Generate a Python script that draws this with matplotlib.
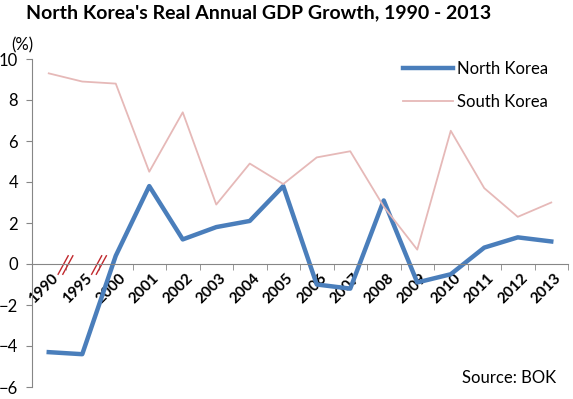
import matplotlib.pyplot as plt
import matplotlib.transforms as mtransforms
from matplotlib.ticker import FixedLocator

plt.rcParams['font.family'] = ['Lato', 'DejaVu Sans']

years = ['1990', '1995', '2000', '2001', '2002', '2003', '2004', '2005',
         '2006', '2007', '2008', '2009', '2010', '2011', '2012', '2013']
north_korea = [-4.3, -4.4, 0.4, 3.8, 1.2, 1.8, 2.1, 3.8,
               -1.0, -1.2, 3.1, -0.9, -0.5, 0.8, 1.3, 1.1]
south_korea = [9.3, 8.9, 8.8, 4.5, 7.4, 2.9, 4.9, 3.9,
               5.2, 5.5, 2.8, 0.7, 6.5, 3.7, 2.3, 3.0]
y_ticks = [-6, -4, -2, 0, 2, 4, 6, 8, 10]

fig = plt.figure(figsize=(5.73, 3.99), dpi=100)
ax = fig.add_axes([32 / 573, 1 - 387 / 399, 536 / 573, 328 / 399])

x = list(range(len(years)))
ax.plot(x, north_korea, color='#4a7ebb', lw=3.2, label='North Korea')
ax.plot(x, south_korea, color='#e6b9b8', lw=1.3, label='South Korea')

ax.set_xlim(-0.5, len(years) - 0.5)
ax.set_ylim(-6, 10)
ax.set_yticks(y_ticks)
ax.tick_params(axis='y', length=4, color='#868686', labelsize=12, pad=6)

ax.spines['top'].set_visible(False)
ax.spines['right'].set_visible(False)
ax.spines['left'].set_color('#868686')
ax.spines['bottom'].set_color('#868686')
ax.spines['bottom'].set_position(('data', 0))

ax.set_xticks(x)
ax.set_xticklabels(years, rotation=45, ha='right', va='top',
                   rotation_mode='anchor', fontsize=11, fontweight='bold')
ax.tick_params(axis='x', which='major', length=0, pad=5)
ax.xaxis.set_minor_locator(FixedLocator([i + 0.5 for i in range(len(years))]))
ax.tick_params(axis='x', which='minor', length=4, color='#868686', direction='out')
offset = mtransforms.ScaledTranslation(2 / 72, 0, fig.dpi_scale_trans)
for lab in ax.get_xticklabels():
    lab.set_transform(lab.get_transform() + offset)

# axis break marks
for xb in [0.5, 1.5]:
    for dx in [-0.07, 0.07]:
        ax.plot([xb + dx - 0.15, xb + dx + 0.15], [-0.5, 0.4], color='#c0282d', lw=1.0)

leg = ax.legend(loc='upper right', bbox_to_anchor=(0.99, 1.04), frameon=False,
                fontsize=12, handlelength=3.0, labelspacing=1.0, handletextpad=0.2)

fig.text(259 / 573, 1 - 13 / 399, "North Korea's Real Annual GDP Growth, 1990 - 2013",
         ha='center', va='center', fontsize=14, fontweight='bold')
fig.text(22 / 573, 1 - 45 / 399, '(%)', ha='center', va='center', fontsize=12)
fig.text(0.97, 1 - 378 / 399, 'Source: BOK', ha='right', va='center', fontsize=12)

fig.savefig('out.png', dpi=100)
